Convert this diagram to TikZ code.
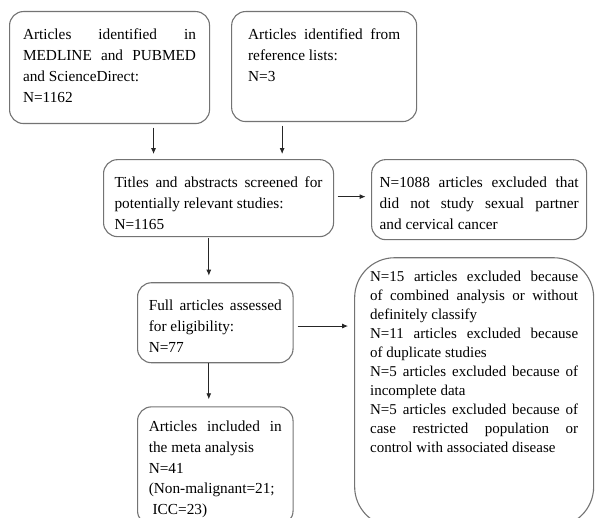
\documentclass[tikz,border=0pt]{standalone}
\usepackage{fontspec}
\setmainfont{Liberation Serif}
\usepackage{tikz}
\usetikzlibrary{positioning}
\usetikzlibrary{arrows.meta}
\hyphenpenalty=10000
\exhyphenpenalty=10000

\tikzset{
  box/.style={draw=black!55,line width=1.1pt,rounded corners=14pt,inner sep=0pt,align=justify,
    text height=28pt,font=\fontsize{15.3}{21}\selectfont},
  flow/.style={->,line width=0.9pt,draw=black!85}
}

\begin{document}
\begin{tikzpicture}[x=1pt,y=-1pt,>={Latex[length=6pt,width=5pt]}]
\useasboundingbox (0,0) rectangle (598,518);
\clip (0,0) rectangle (598,518);

\node (A) [box,anchor=north west,minimum width=200pt,text width=173pt,text depth=84pt] at (9,11)
  {Articles identified in\linebreak MEDLINE and PUBMED\linebreak and ScienceDirect:\\ N=1162};
\node (B) [box,right=21pt of A.north east,anchor=north west,minimum width=185pt,text width=152pt,text depth=82pt]
  {Articles identified from\linebreak reference lists:\\ N=3};
\node (C) [box,below right=35pt and 94pt of A.south west,minimum width=230pt,text width=208pt,text depth=49pt]
  {Titles and abstracts screened for\linebreak potentially relevant studies:\\ N=1165};
\node (D) [box,right=37pt of C.north east,anchor=north west,minimum width=215pt,text width=199pt,text depth=52pt]
  {N=1088 articles excluded that\linebreak did not study sexual partner\linebreak and cervical cancer};
\node (E) [box,below right=45pt and 34pt of C.south west,minimum width=155.5pt,text width=133pt,text depth=52pt]
  {Full articles assessed\linebreak for eligibility:\\ N=77};
\node (F) [box,below right=17pt and -17pt of D.south west,rounded corners=40pt,minimum width=239pt,text width=208pt,
  text height=24pt,text depth=245pt,font=\fontsize{15}{19}\selectfont]
  {N=15 articles excluded because\linebreak of combined analysis or without\linebreak definitely classify\\
   N=11 articles excluded because\linebreak of duplicate studies\\
   N=5 articles excluded because of\linebreak incomplete data\\
   N=5 articles excluded because of\linebreak case restricted population or\linebreak control with associated disease};
\node (G) [box,below right=43pt and 0pt of E.south west,minimum width=155.5pt,text width=133pt,
  text height=25pt,text depth=93pt,font=\fontsize{15.3}{20.6}\selectfont]
  {Articles included in\linebreak the meta analysis\\ N=41\\ (Non-malignant=21;\\ \hspace*{0.25em}ICC=23)};

\draw[flow,shorten >=5pt] ([xshift=44pt,yshift=-3.5pt]A.south) -- ([xshift=44pt]A.south |- C.north);
\draw[flow,shorten >=5pt] ([xshift=-42pt,yshift=-3.5pt]B.south) -- ([xshift=-42pt]B.south |- C.north);
\draw[flow,shorten >=5.5pt] ([xshift=3.5pt,yshift=1.5pt]C.east) -- ([yshift=1.5pt]C.east -| D.west);
\draw[flow,shorten >=6.5pt] ([xshift=-9.7pt,yshift=-1pt]C.south) -- ([xshift=-9.7pt]C.south |- E.north);
\draw[flow,shorten >=6pt] ([xshift=4pt,yshift=-3.3pt]E.east) -- ([yshift=-3.3pt]E.east -| F.west);
\draw[flow,shorten >=7pt] ([xshift=-6.5pt]E.south) -- ([xshift=-6.5pt]E.south |- G.north);
\end{tikzpicture}
\end{document}
